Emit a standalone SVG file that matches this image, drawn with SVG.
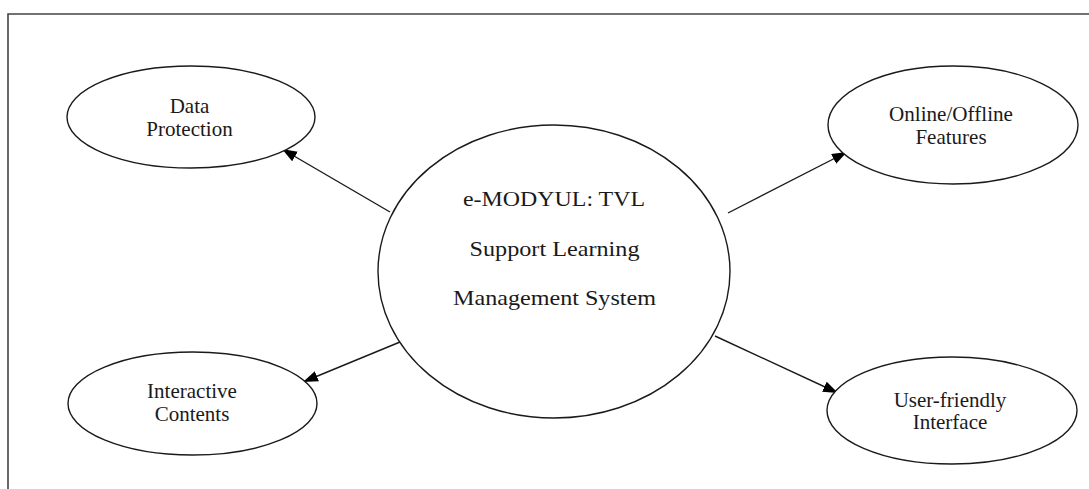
<svg xmlns="http://www.w3.org/2000/svg" width="1089" height="489" viewBox="0 0 1089 489">
  <style>
    .node ellipse { fill: #ffffff; stroke: #1a1a1a; stroke-width: 1.4; }
    .node text { font-family: "Liberation Serif", "Times New Roman", serif; font-size: 21px; fill: #1a1a1a; text-anchor: middle; }
    #center text { font-size: 22px; }
    .edge { stroke: #1a1a1a; stroke-width: 1.4; fill: none; marker-end: url(#arrow); }
    .frame { stroke: #444444; stroke-width: 1.6; fill: none; }
  </style>
  <defs>
    <marker id="arrow" markerUnits="userSpaceOnUse" markerWidth="16" markerHeight="12" refX="15" refY="5.5" orient="auto">
      <path d="M0,0 L15,5.5 L0,11 Z" fill="#000000"/>
    </marker>
  </defs>

  <rect width="1089" height="489" fill="#ffffff"/>
  <!-- outer frame (open on the right and bottom) -->
  <path class="frame" d="M8,489 V14 H1089"/>

  <!-- connectors -->
  <g id="connectors">
    <line class="edge" x1="390" y1="212" x2="282" y2="149"/>
    <line class="edge" x1="728" y1="213" x2="847" y2="152"/>
    <line class="edge" x1="400" y1="342" x2="303" y2="382"/>
    <line class="edge" x1="715" y1="336" x2="838" y2="393"/>
  </g>

  <g id="center" class="node">
    <ellipse cx="554" cy="271.5" rx="176" ry="146.5"/>
    <text x="554" y="206" textLength="182" lengthAdjust="spacingAndGlyphs">e-MODYUL: TVL</text>
    <text x="554.5" y="256" textLength="170" lengthAdjust="spacingAndGlyphs">Support Learning</text>
    <text x="554.5" y="305" textLength="203" lengthAdjust="spacingAndGlyphs">Management System</text>
  </g>

  <g id="data-protection" class="node">
    <ellipse cx="191" cy="117" rx="124" ry="51"/>
    <text x="189.5" y="113">Data</text>
    <text x="189.5" y="135.5">Protection</text>
  </g>

  <g id="online-offline" class="node">
    <ellipse cx="953" cy="125" rx="125" ry="59"/>
    <text x="951" y="121" textLength="124" lengthAdjust="spacingAndGlyphs">Online/Offline</text>
    <text x="951" y="143.5">Features</text>
  </g>

  <g id="interactive-contents" class="node">
    <ellipse cx="192.5" cy="403.5" rx="124.5" ry="51.5"/>
    <text x="192" y="398">Interactive</text>
    <text x="192" y="421">Contents</text>
  </g>

  <g id="user-friendly" class="node">
    <ellipse cx="952" cy="410.5" rx="125" ry="53.5"/>
    <text x="950" y="406.5">User-friendly</text>
    <text x="950" y="429">Interface</text>
  </g>
</svg>
